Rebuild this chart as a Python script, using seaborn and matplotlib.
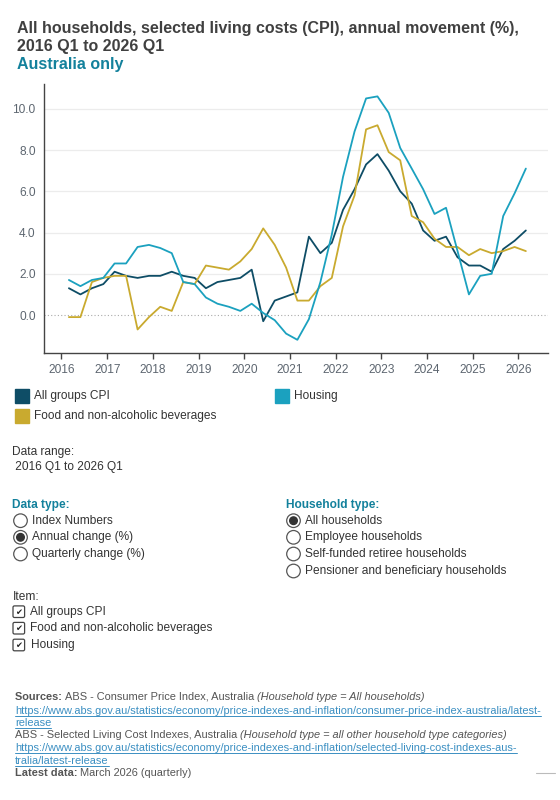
import numpy as np
import pandas as pd
import matplotlib
matplotlib.use('Agg')
import matplotlib.pyplot as plt
import matplotlib.dates as mdates
from matplotlib.patches import Circle, FancyBboxPatch, Rectangle
import seaborn as sns

# ── Data ──────────────────────────────────────────────────────────────────────

quarters = pd.date_range('2016-03-01', '2026-03-01', freq='3MS')

all_groups = [1.3, 1.0, 1.3, 1.5, 2.1, 1.9, 1.8, 1.9, 1.9, 2.1,
              1.9, 1.8, 1.3, 1.6, 1.7, 1.8, 2.2, -0.3, 0.7, 0.9,
              1.1, 3.8, 3.0, 3.5, 5.1, 6.1, 7.3, 7.8, 7.0, 6.0,
              5.4, 4.1, 3.6, 3.8, 2.8, 2.4, 2.4, 2.1, 3.2, 3.6, 4.1]
food = [-0.1, -0.1, 1.6, 1.8, 1.9, 1.9, -0.7, -0.1, 0.4, 0.2,
        1.6, 1.5, 2.4, 2.3, 2.2, 2.6, 3.2, 4.2, 3.4, 2.3,
        0.7, 0.7, 1.4, 1.8, 4.3, 5.8, 9.0, 9.2, 7.9, 7.5,
        4.8, 4.5, 3.7, 3.3, 3.3, 2.9, 3.2, 3.0, 3.1, 3.3, 3.1]
housing = [1.7, 1.4, 1.7, 1.8, 2.5, 2.5, 3.3, 3.4, 3.25, 3.0,
           1.6, 1.5, 0.85, 0.55, 0.4, 0.2, 0.55, 0.1, -0.25, -0.9,
           -1.2, -0.2, 1.6, 3.9, 6.7, 8.9, 10.5, 10.6, 9.8, 8.1,
           7.1, 6.1, 4.9, 5.2, 3.1, 1.0, 1.9, 2.0, 4.8, 5.9, 7.1]

series_names = ['All groups CPI', 'Food and non-alcoholic beverages', 'Housing']
colors = ['#0e4d66', '#c9aa2f', '#1ba1bf']
y_ticks = [0, 2, 4, 6, 8, 10]
years = list(range(2016, 2027))

df = pd.DataFrame({
    'date': np.tile(quarters, 3),
    'value': all_groups + food + housing,
    'series': np.repeat(series_names, len(quarters)),
})

# ── Style ─────────────────────────────────────────────────────────────────────

sns.set_theme(style='white')
plt.rcParams['font.family'] = ['Liberation Sans', 'DejaVu Sans']

TXT = '#333333'
TEAL = '#13819c'
TICK = '#5d6670'

fig = plt.figure(figsize=(5.6, 8), dpi=100)
ax = fig.add_axes([44/560, 1 - 353/800, (548-44)/560, (353-84)/800])

sns.lineplot(data=df, x='date', y='value', hue='series', hue_order=series_names,
             palette=colors, linewidth=1.3, legend=False, ax=ax)

ax.set_ylim(-1.84, 11.2)
ax.set_xlim(pd.Timestamp('2015-08-15'), pd.Timestamp('2026-08-25'))
ax.set_yticks(y_ticks)
ax.set_yticklabels([f'{v:.1f}' for v in y_ticks])
ax.set_xticks([pd.Timestamp(f'{y}-01-01') for y in years])
ax.xaxis.set_major_formatter(mdates.DateFormatter('%Y'))
ax.set_xlabel('')
ax.set_ylabel('')

for v in y_ticks[1:]:
    ax.axhline(v, color='#ececec', lw=0.9, zorder=0)
ax.axhline(0, color='#aaaaaa', lw=0.8, ls=(0, (1, 2)), zorder=0)

for s in ['top', 'right']:
    ax.spines[s].set_visible(False)
for s in ['left', 'bottom']:
    ax.spines[s].set_color('#444444')
    ax.spines[s].set_linewidth(1.0)
ax.tick_params(axis='x', length=4, width=1, color='#444444', labelsize=8.6,
               labelcolor=TICK, pad=4, direction='out', bottom=True)
ax.tick_params(axis='y', length=0, labelsize=8.6, labelcolor=TICK, pad=6)

# ── Overlay in pixel coordinates ─────────────────────────────────────────────

ov = fig.add_axes([0, 0, 1, 1], zorder=-1)
ov.set_xlim(0, 560)
ov.set_ylim(800, 0)
ov.axis('off')
renderer = fig.canvas.get_renderer()


def put(x, y, s, **kw):
    kw.setdefault('color', TXT)
    kw.setdefault('fontsize', 8.6)
    t = ov.text(x, y, s, va='center', ha='left', **kw)
    bb = t.get_window_extent(renderer)
    return t, bb


def run(x, y, parts, size=7.9, underline=False):
    # draw text segments one after another on a line
    px = size * 100 / 72
    for s, kw in parts:
        t, bb = put(x, y, s, fontsize=size, **kw)
        if underline:
            uy = y + 0.45 * px
            ov.plot([x, x + bb.width], [uy, uy], color=kw.get('color', TXT), lw=0.7)
        x += bb.width
    return x


# title
put(17, 28.5, 'All households, selected living costs (CPI), annual movement (%),',
    fontsize=11.5, fontweight='bold', color='#404040')
put(17, 46.8, '2016 Q1 to 2026 Q1', fontsize=11.5, fontweight='bold', color='#404040')
put(17, 65, 'Australia only', fontsize=11.5, fontweight='bold', color=TEAL)

# legend
leg_pos = [(15, 396), (15, 415.5), (275, 396)]
for (lx, ly), name, c in zip(leg_pos, series_names, colors):
    ov.add_patch(Rectangle((lx, ly - 7), 14, 14, color=c))
    put(lx + 19, ly, name)

# data range
put(12.5, 451.7, 'Data range:')
put(12.5, 467.3, ' 2016 Q1 to 2026 Q1')


def radio(x, y, label, on=False):
    ov.add_patch(Circle((x, y), 6.8, facecolor='white', edgecolor='#555555', lw=0.9))
    if on:
        ov.add_patch(Circle((x, y), 3.8, color='#333333'))
    put(x + 11.5, y, label)


put(12.5, 505, 'Data type:', fontweight='bold', color=TEAL)
for lab, yy, on in zip(['Index Numbers', 'Annual change (%)', 'Quarterly change (%)'],
                       [520.7, 537.3, 554], [False, True, False]):
    radio(20.5, yy, lab, on)

put(286.5, 505, 'Household type:', fontweight='bold', color=TEAL)
for lab, yy, on in zip(['All households', 'Employee households',
                        'Self-funded retiree households',
                        'Pensioner and beneficiary households'],
                       [520.7, 537.3, 554, 571], [True, False, False, False]):
    radio(293.5, yy, lab, on)

put(12.5, 596.7, 'Item:')
for lab, yy in zip(series_names, [611.7, 628.2, 645]):
    ov.add_patch(FancyBboxPatch((13, yy - 5.8), 11.6, 11.6,
                                boxstyle='round,pad=0,rounding_size=1.5',
                                facecolor='white', edgecolor='#444444', lw=0.9))
    ov.text(18.8, yy + 0.3, '\u2714', fontsize=6, ha='center', va='center',
            color='#222222', family='DejaVu Sans')
    put(30.5, yy, lab)

# footer
LINK = '#3b8fc2'
GREY = '#555555'
run(15, 696.7, [('Sources: ', dict(fontweight='bold', color=GREY)),
                ('ABS - Consumer Price Index, Australia ', dict(color=GREY)),
                ('(Household type = All households)', dict(style='italic', color=GREY))])
run(15, 710.7, [('https://www.abs.gov.au/statistics/economy/price-indexes-and-inflation/consumer-price-index-australia/latest-',
                 dict(color=LINK))], underline=True)
run(15, 723.3, [('release', dict(color=LINK))], underline=True)
run(15, 735, [('ABS - Selected Living Cost Indexes, Australia ', dict(color=GREY)),
              ('(Household type = all other household type categories)',
               dict(style='italic', color=GREY))])
run(15, 748.3, [('https://www.abs.gov.au/statistics/economy/price-indexes-and-inflation/selected-living-cost-indexes-aus-',
                 dict(color=LINK))], underline=True)
run(15, 761, [('tralia/latest-release', dict(color=LINK))], underline=True)
run(15, 773.3, [('Latest data: ', dict(fontweight='bold', color=GREY)),
                ('March 2026 (quarterly)', dict(color=GREY))])
ov.plot([536, 555], [773.3, 773.3], color='#bbbbbb', lw=0.8)

fig.savefig('out.png', dpi=100)
